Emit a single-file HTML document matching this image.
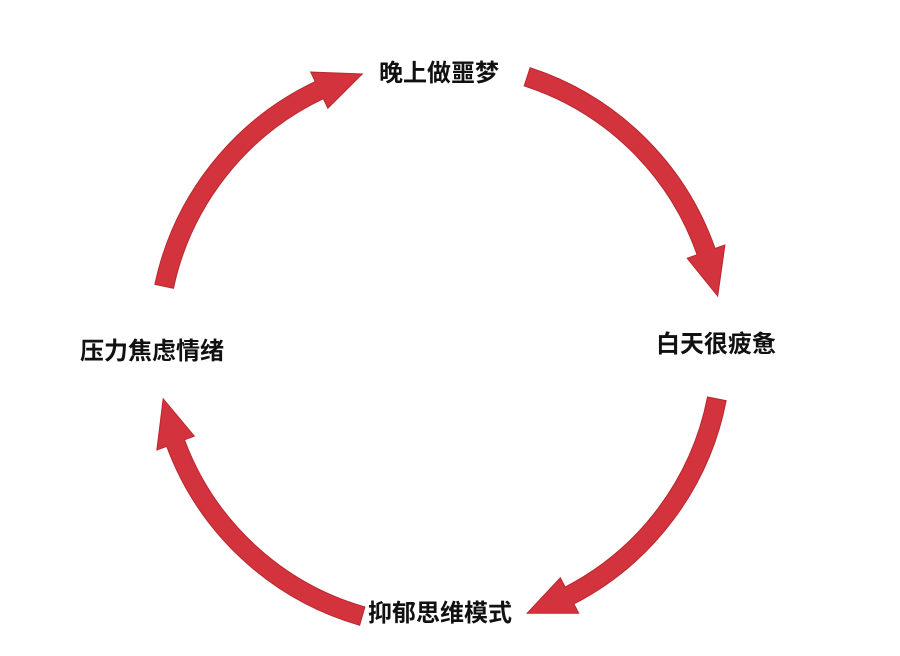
<!DOCTYPE html>
<html><head><meta charset="utf-8"><style>
html,body{margin:0;padding:0;background:#fff;width:900px;height:656px;overflow:hidden}
svg{display:block}
text{font-family:"Liberation Sans","Noto Sans CJK SC",sans-serif;font-weight:bold;font-size:24px;fill:#111}
</style></head><body>
<svg id="s" width="900" height="656" viewBox="0 0 900 656">
<text x="439" y="81" text-anchor="middle">晚上做噩梦</text>
<text x="716" y="352" text-anchor="middle">白天很疲惫</text>
<text x="440" y="621" text-anchor="middle">抑郁思维模式</text>
<text x="152" y="359" text-anchor="middle">压力焦虑情绪</text>
</svg>
<script>
var s=document.getElementById('s'),cx=440,cy=345,r=282,NS='http://www.w3.org/2000/svg';
function p(a,rr){a=a*Math.PI/180;return [cx+rr*Math.cos(a),cy+rr*Math.sin(a)];}
[[-72,-10],[11,72],[106,169],[192,254]].forEach(function(d){
 var a0=d[0],tip=d[1],hl=46/r*180/Math.PI,a1=tip-hl,w=9.5,hw=20;
 var o0=p(a0,r+w),o1=p(a1,r+w),i1=p(a1,r-w),i0=p(a0,r-w),h1=p(a1,r+hw),h2=p(a1,r-hw),t=p(tip,r);
 var path='M'+o0+' A'+(r+w)+','+(r+w)+' 0 0 1 '+o1+' L'+h1+' L'+t+' L'+h2+' L'+i1+' A'+(r-w)+','+(r-w)+' 0 0 0 '+i0+' Z';
 var e=document.createElementNS(NS,'path');e.setAttribute('d',path);e.setAttribute('fill','#d3333d');e.setAttribute('stroke','#b8282f');e.setAttribute('stroke-width','1');
 s.appendChild(e);
});
</script>
</body></html>
